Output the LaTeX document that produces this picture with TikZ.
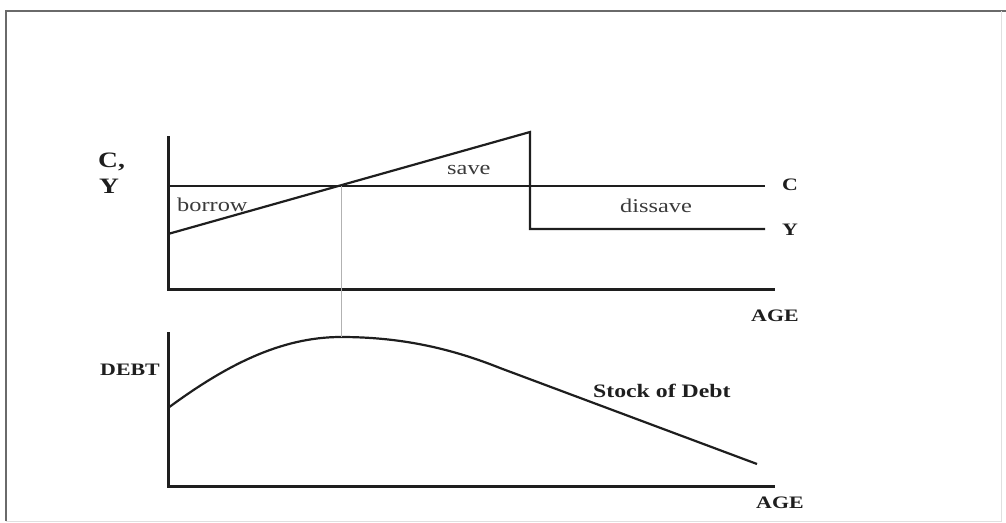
\documentclass[tikz,border=0pt]{standalone}
\usepackage{fontspec}
\setmainfont{Liberation Serif}
\usetikzlibrary{positioning}
\definecolor{inkline}{HTML}{1E1E1E}
\definecolor{inktext}{HTML}{3A3A3A}
\definecolor{framegray}{HTML}{6A6A6A}
\newcommand{\wtxt}[1]{\scalebox{1.25}[1]{#1}}

\begin{document}
\begin{tikzpicture}[
    x=1pt, y=-1pt,
    axis/.style={draw=inkline, line width=3pt, line cap=rect},
    curve/.style={draw=inkline, line width=2.2pt},
    guide/.style={draw=black!30, line width=0.8pt},
    plain/.style={inner sep=0pt, text=inktext, font=\fontsize{19.5}{22}\selectfont},
    tag/.style={inner sep=0pt, text=inkline, font=\fontsize{17.5}{20}\selectfont\bfseries},
]
\useasboundingbox (0,0) rectangle (1006,522);

% === Frame ===
\draw[framegray, line width=1.8pt] (6,521) -- (6,11) -- (1006,11);
\draw[black!12, line width=1pt] (1001,11) -- (1001,521) -- (6,521);

% === Upper panel: C and Y ===
\coordinate (uo) at (168,289);
\coordinate (utop) at (168,137);
\coordinate (uend) at (773,289);
\draw[axis] (utop) -- (uo) -- (uend);

\coordinate (c0) at (168,186);
\coordinate (c1) at (765,186);
\draw[curve] (c0) -- (c1);

\coordinate (y0) at (168,234);
\coordinate (ypeak) at (530,132);
\coordinate (ydrop) at (530,229);
\coordinate (y1) at (765,229);
\draw[curve] (y0) -- (ypeak) -- (ydrop) -- (y1);

\node[tag, anchor=base west, font=\fontsize{22}{24}\selectfont\bfseries] (lc) at (98,167) {\wtxt{C,}};
\node[tag, anchor=base west, font=\fontsize{22}{24}\selectfont\bfseries] (ly) at (99,193) {\wtxt{Y}};
\node[tag, anchor=base west] (lcr) at (782,190) {\wtxt{C}};
\node[tag, anchor=base west] (lyr) at (782,235) {\wtxt{Y}};
\node[plain, anchor=base west] (borrow) at (177,211) {\wtxt{borrow}};
\node[plain, anchor=base west] (save) at (447,174) {\wtxt{save}};
\node[plain, anchor=base west] (dissave) at (620,212) {\wtxt{dissave}};
\node[tag, anchor=base west] (uage) at (751,321) {\wtxt{AGE}};

% === Lower panel: stock of debt ===
\coordinate (lo) at (168,486);
\coordinate (ltop) at (168,333);
\coordinate (lend) at (773,486);
\draw[axis] (ltop) -- (lo) -- (lend);

\coordinate (d0) at (168,408);
\coordinate (dpeak) at (341,337);
\coordinate (dmid) at (500,368);
\coordinate (d1) at (757,464);
\draw[curve] (d0) .. controls (225,366) and (280,337) .. (dpeak)
    .. controls (400,337) and (450,348) .. (dmid) -- (d1);

\node[tag, anchor=base east] (debt) at (160,375) {\wtxt{DEBT}};
\node[tag, anchor=base west, font=\fontsize{19}{22}\selectfont\bfseries] (stock) at (593,397) {\wtxt{Stock of Debt}};
\node[tag, anchor=base west] (lage) at (756,508) {\wtxt{AGE}};

% === Guide from crossing to peak ===
\coordinate (cross) at (341,186);
\draw[guide] (cross) -- (dpeak);

\end{tikzpicture}
\end{document}
